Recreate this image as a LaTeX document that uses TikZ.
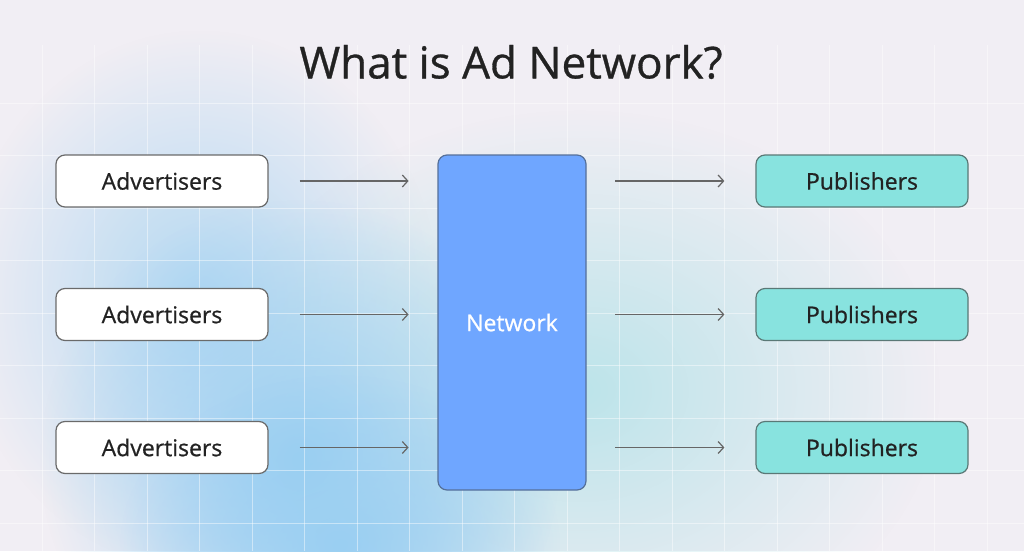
\documentclass[tikz,border=0pt]{standalone}
\usepackage{fontspec}
\setmainfont{Open Sans}
\newfontfamily\medfont{Open Sans}[FakeBold=0.7]
\usetikzlibrary{fadings,arrows.meta}
\tikzfading[name=blobfade, inner color=transparent!0, outer color=transparent!100]
\definecolor{bgcol}{HTML}{F1EEF4}
\definecolor{blobblue}{HTML}{9ACFF2}
\definecolor{blobteal}{HTML}{BCE4EA}
\definecolor{blobleft}{HTML}{B2D8F2}
\definecolor{boxline}{HTML}{6A6A6A}
\definecolor{txt}{HTML}{222222}
\definecolor{netfill}{HTML}{6FA6FF}
\definecolor{netline}{HTML}{55709A}
\definecolor{pubfill}{HTML}{88E3DF}
\definecolor{publine}{HTML}{5A7876}
\definecolor{arrowcol}{HTML}{666666}
\tikzset{
  advbox/.style={draw=boxline, line width=1.2pt, fill=white, rounded corners=9pt,
    minimum width=212pt, minimum height=52pt, inner sep=0pt, text=txt, font=\medfont\fontsize{23}{27}\selectfont},
  pubbox/.style={advbox, draw=publine, fill=pubfill},
  netbox/.style={draw=netline, line width=1.2pt, fill=netfill, rounded corners=9pt,
    minimum width=148pt, minimum height=335pt, inner sep=0pt, text=white, font=\medfont\fontsize{23}{27}\selectfont},
  flow/.style={draw=arrowcol, line width=1.2pt, -{Straight Barb[length=5.5pt,width=12pt,line width=1.2pt]}},
  gridline/.style={draw=white, line width=0.9pt, opacity=0.45}
}
\begin{document}
\begin{tikzpicture}[x=1pt,y=-1pt]
\useasboundingbox (0,0) rectangle (1024,551);
% background
\fill[bgcol] (0,0) rectangle (1024,551);
\begin{scope}
\clip (0,0) rectangle (1024,551);
\fill[blobleft, path fading=blobfade] (200,300) ellipse[x radius=240, y radius=270];
\fill[blobteal, path fading=blobfade] (580,390) ellipse[x radius=360, y radius=280];
\fill[blobblue, path fading=blobfade] (300,460) ellipse[x radius=260, y radius=260];
\fill[blobblue, path fading=blobfade] (340,545) ellipse[x radius=220, y radius=170];
% grid
\foreach \i in {0,...,19} {
  \draw[gridline] ({42+52.5*\i},45) -- ({42+52.5*\i},551);
}
\foreach \j in {0,...,9} {
  \draw[gridline] (0,{103+52.5*\j}) -- (1024,{103+52.5*\j});
}
\end{scope}
% title
\node[text=txt, font=\medfont\fontsize{44}{52}\selectfont] (title) at (511,62) {What is Ad Network?};
% boxes
\node[advbox] (a1) at (162,181) {Advertisers};
\node[advbox] (a2) at (162,314.5) {Advertisers};
\node[advbox] (a3) at (162,447.5) {Advertisers};
\node[netbox] (net) at (512,322.5) {Network};
\node[pubbox] (p1) at (862,181) {Publishers};
\node[pubbox] (p2) at (862,314.5) {Publishers};
\node[pubbox] (p3) at (862,447.5) {Publishers};
% arrows
\foreach \k in {1,2,3} {
  \draw[flow] ([xshift=31pt]a\k.east) -- ([xshift=140pt]a\k.east);
  \draw[flow] ([xshift=-140pt]p\k.west) -- ([xshift=-31pt]p\k.west);
}
\end{tikzpicture}
\end{document}
